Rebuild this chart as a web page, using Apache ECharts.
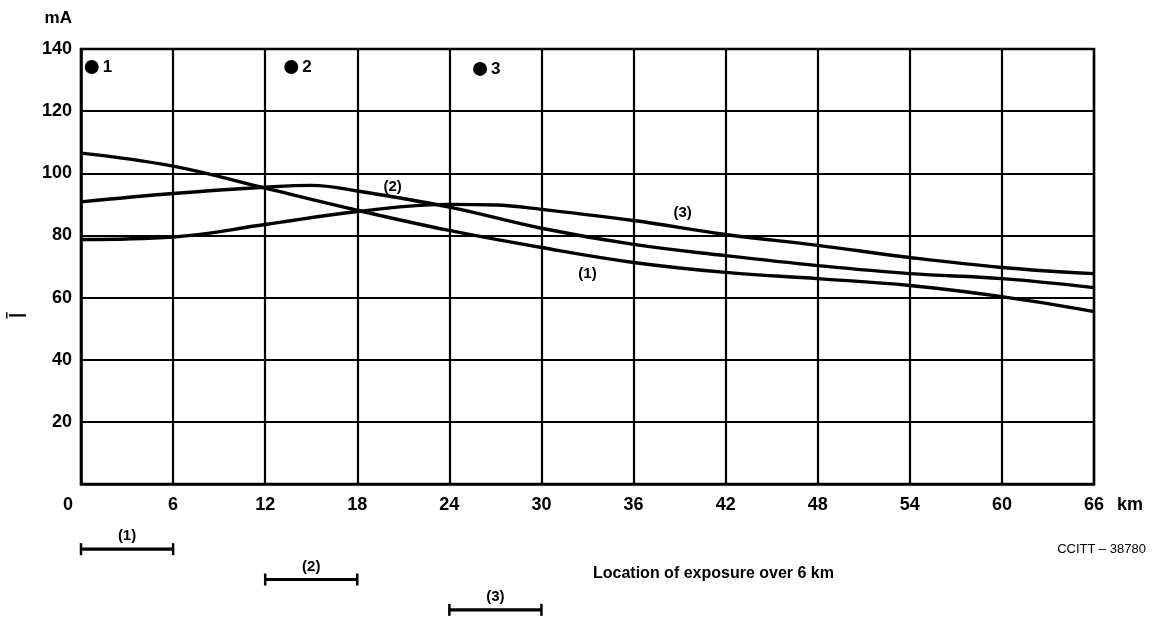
<!DOCTYPE html>
<html>
<head>
<meta charset="utf-8">
<script src="https://cdn.jsdelivr.net/npm/echarts@6/dist/echarts.min.js"></script>
<style>
html,body{margin:0;padding:0;background:#fff;}
#c{width:1154px;height:625px;}
</style>
</head>
<body>
<div id="c"></div>
<script>
// ---- data ----
var xTicks = [0, 6, 12, 18, 24, 30, 36, 42, 48, 54, 60, 66];
var yTicks = [0, 20, 40, 60, 80, 100, 120, 140];
var curve1 = [[0,106.5],[6,102.3],[12,95.2],[18,88.1],[24,81.6],[30,76.1],[36,71.3],[42,68.1],[48,66.1],[54,63.9],[60,60.3],[66,55.5]];
var curve2 = [[0,90.8],[6,93.5],[12,95.5],[15,96.1],[18,94.3],[24,89.1],[30,82.3],[36,77.1],[42,73.5],[48,70.3],[54,67.7],[60,66.1],[66,63.2]];
var curve3 = [[0,78.7],[6,79.5],[12,83.5],[18,87.7],[24,90.0],[27,89.8],[30,88.4],[36,84.8],[42,80.3],[48,76.8],[54,72.9],[60,69.7],[66,67.7]];
var curveLabels = [[33.0,67.7,'(1)'],[20.3,95.5,'(2)'],[39.2,87.4,'(3)']];
var dots = [[0.7,134.2,'1'],[13.7,134.2,'2'],[26.0,133.6,'3']];
var exposureRows = ['(3)','(2)','(1)'];
var exposures = [[0,6,2,'(1)'],[12,18,1,'(2)'],[24,30,0,'(3)']];
var yName = 'mA';
var yLetter = '\u012A';
var xUnit = 'km';
var xNote = 'Location of exposure over 6 km';
var refNote = 'CCITT \u2013 38780';

var FONT = "'Liberation Sans', Arial, sans-serif";
var chart = echarts.init(document.getElementById('c'));

function curveSeries(d){
  return {type:'line', data:d, smooth:0.4, symbol:'none', xAxisIndex:0, yAxisIndex:0,
          lineStyle:{color:'#000', width:3.4}, z:5};
}

var option = {
  backgroundColor:'#fff',
  animation:false,
  grid:[
    {left:81, right:60, top:49, bottom:141, show:true, borderColor:'#000', borderWidth:2.5, backgroundColor:'transparent'},
    {left:81, right:60, top:534, height:96, show:false}
  ],
  xAxis:[
    {type:'value', gridIndex:0, min:0, max:66, interval:6,
     axisLine:{show:true, lineStyle:{color:'#000', width:2.5}},
     axisTick:{show:false},
     splitLine:{show:true, lineStyle:{color:'#000', width:2.2}},
     axisLabel:{margin:12, color:'#000', fontSize:18, fontWeight:'bold', fontFamily:FONT,
       formatter:function(v){ return v===0 ? '{z|0}' : String(v); },
       rich:{z:{padding:[0,26,0,0], fontSize:18, fontWeight:'bold', fontFamily:FONT, color:'#000'}}}},
    {type:'value', gridIndex:1, min:0, max:66, show:false}
  ],
  yAxis:[
    {type:'value', gridIndex:0, min:0, max:140, interval:20,
     axisLine:{show:true, lineStyle:{color:'#000', width:2.5}},
     axisTick:{show:false},
     splitLine:{show:true, lineStyle:{color:'#000', width:2.2}},
     axisLabel:{margin:9, color:'#000', fontSize:18, fontWeight:'bold', fontFamily:FONT,
       formatter:function(v){ return v===0 ? '' : String(v); }}},
    {type:'category', gridIndex:1, data:exposureRows, show:false}
  ],
  series:[
    curveSeries(curve1), curveSeries(curve2), curveSeries(curve3),
    {type:'scatter', xAxisIndex:0, yAxisIndex:0, data:curveLabels.map(function(p){return {value:[p[0],p[1]], name:p[2]};}),
     symbolSize:1, itemStyle:{color:'rgba(0,0,0,0)', opacity:1}, z:6,
     label:{show:true, position:'inside', formatter:'{b}', color:'#000', opacity:1, fontSize:15, fontWeight:'bold', fontFamily:FONT}},
    {type:'scatter', xAxisIndex:0, yAxisIndex:0, data:dots.map(function(p){return {value:[p[0],p[1]], name:p[2]};}),
     symbol:'circle', symbolSize:14, itemStyle:{color:'#000', opacity:1}, z:6,
     label:{show:true, position:'right', distance:4, formatter:'{b}', color:'#000', opacity:1, fontSize:17, fontWeight:'bold', fontFamily:FONT}},
    {type:'custom', xAxisIndex:1, yAxisIndex:1, data:exposures, z:5,
     renderItem:function(params, api){
       var a = api.coord([api.value(0), api.value(2)]);
       var b = api.coord([api.value(1), api.value(2)]);
       var h = 6;
       return {type:'group', children:[
         {type:'line', shape:{x1:a[0], y1:a[1], x2:b[0], y2:b[1]}, style:{stroke:'#000', lineWidth:3.2}},
         {type:'line', shape:{x1:a[0], y1:a[1]-h, x2:a[0], y2:a[1]+h}, style:{stroke:'#000', lineWidth:2.5}},
         {type:'line', shape:{x1:b[0], y1:b[1]-h, x2:b[0], y2:b[1]+h}, style:{stroke:'#000', lineWidth:2.5}},
         {type:'text', style:{text:exposures[params.dataIndex][3], x:(a[0]+b[0])/2, y:a[1]-13,
            textAlign:'center', textVerticalAlign:'middle', fill:'#000', font:'bold 15px '+FONT}}
       ]};
     }}
  ]
};
chart.setOption(option);

var p66 = chart.convertToPixel({xAxisIndex:0, yAxisIndex:0}, [66, 0]);
var p140 = chart.convertToPixel({xAxisIndex:0, yAxisIndex:0}, [0, 140]);
var p70 = chart.convertToPixel({xAxisIndex:0, yAxisIndex:0}, [0, 70]);
chart.setOption({
  graphic:[
    {type:'text', x:p140[0]-9, y:p140[1]-31, style:{text:yName, textAlign:'right', textVerticalAlign:'middle', fill:'#000', font:'bold 17px '+FONT}},
    {type:'text', x:19, y:p70[1]+49, rotation:Math.PI/2, style:{text:yLetter, textAlign:'center', textVerticalAlign:'middle', fill:'#000', font:'24px '+FONT}},
    {type:'text', x:p66[0]+23, y:p66[1]+21, style:{text:xUnit, textAlign:'left', textVerticalAlign:'middle', fill:'#000', font:'bold 18px '+FONT}},
    {type:'text', x:593, y:574, style:{text:xNote, textAlign:'left', textVerticalAlign:'middle', fill:'#000', font:'bold 16px '+FONT}},
    {type:'text', x:1146, y:549, style:{text:refNote, textAlign:'right', textVerticalAlign:'middle', fill:'#000', font:'13px '+FONT}}
  ]
});
</script>
</body>
</html>
